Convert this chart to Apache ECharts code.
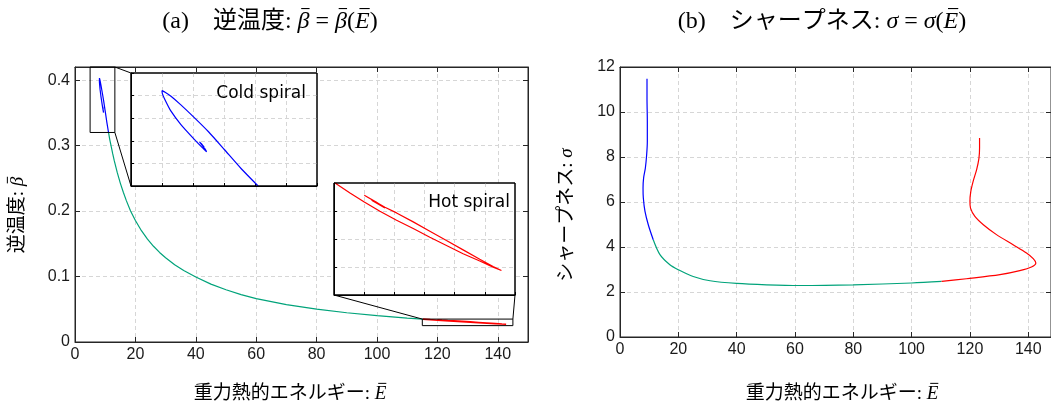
<!DOCTYPE html>
<html><head><meta charset="utf-8">
<script src="https://cdn.jsdelivr.net/npm/echarts@6/dist/echarts.min.js"></script>
<style>html,body{margin:0;padding:0;background:#fff}#c{width:1051px;height:410px}</style>
</head><body><div id="c"></div><script>
// ---------- data ----------
// (a) inverse temperature beta vs energy E
const greenBetaE = [11.1, 11.5, 12, 12.5, 13, 14, 15, 16, 17, 18.4, 20, 22, 24, 26, 28, 30, 33, 36, 40, 45, 50, 55, 60, 70, 80, 90, 100, 110, 115.2];
const greenBeta  = [0.3200, 0.3096, 0.2983, 0.2872, 0.2769, 0.2586, 0.2427, 0.2288, 0.2159, 0.2000, 0.1855, 0.1700, 0.1571, 0.1462, 0.1368, 0.1287, 0.1179, 0.1092, 0.0993, 0.0884, 0.0798, 0.0724, 0.0662, 0.0570, 0.0501, 0.0447, 0.0402, 0.0366, 0.0350];
const coldBetaE = [11.10, 10.55, 10.01, 9.50, 9.05, 8.60, 8.29, 8.10, 8.00, 8.01, 8.08, 8.29, 8.61, 9.05, 9.30, 9.44, 9.38, 9.21, 9.27, 9.36];
const coldBeta  = [0.3200, 0.3355, 0.3523, 0.3680, 0.3803, 0.3920, 0.3994, 0.4030, 0.4044, 0.4020, 0.3973, 0.3862, 0.3744, 0.3611, 0.3540, 0.3503, 0.3530, 0.3591, 0.3575, 0.3545];
const hotBetaE = [115.17, 117.65, 120.02, 122.61, 125.37, 128.13, 130.89, 133.64, 136.40, 139.16, 141.37, 142.75, 141.37, 139.16, 136.40, 133.64, 130.89, 128.13, 125.37, 123.44, 121.51, 120.02, 120.30, 122.06, 123.44, 123.16, 121.51, 121.23];
const hotBeta  = [0.03500, 0.03411, 0.03331, 0.03248, 0.03168, 0.03093, 0.03016, 0.02942, 0.02868, 0.02803, 0.02749, 0.02719, 0.02755, 0.02820, 0.02903, 0.02986, 0.03070, 0.03153, 0.03233, 0.03283, 0.03343, 0.03390, 0.03384, 0.03328, 0.03277, 0.03283, 0.03337, 0.03346];
// (b) sharpness sigma vs energy E
const greenSigmaE = [11.4, 13.7, 17.1, 20.0, 25.1, 30.9, 40.0, 50.3, 61.7, 80.0, 100.0, 110.3];
const greenSigma  = [4.32, 3.66, 3.21, 2.99, 2.69, 2.50, 2.38, 2.32, 2.29, 2.32, 2.40, 2.47];
const coldSigmaE = [11.4, 9.7, 8.57, 8.0, 7.9, 8.1, 8.7, 9.14, 9.37, 9.37, 9.26, 9.26];
const coldSigma  = [4.32, 4.99, 5.58, 6.18, 6.62, 7.07, 7.51, 8.10, 8.69, 9.58, 10.62, 11.48];
const hotSigmaE = [110.3, 118.8, 130.3, 137.1, 141.1, 142.6, 141.7, 139.4, 134.8, 129.1, 124.6, 121.7, 120.2, 120.0, 120.3, 121.1, 122.3, 123.1, 123.3, 123.3];
const hotSigma  = [2.47, 2.59, 2.77, 2.95, 3.11, 3.29, 3.48, 3.73, 4.10, 4.55, 4.99, 5.36, 5.73, 6.03, 6.47, 6.92, 7.44, 7.95, 8.40, 8.84];
// axis ranges, zoom windows and inset ranges
const axisA = {E: [0, 150], Ei: 20, beta: [0, 0.42], bi: 0.1};
const axisB = {E: [0, 147.8], Ei: 20, sigma: [0, 12], si: 2};
const coldWindow = {E: [5, 13.2], beta: [0.32, 0.42]};
const hotWindow  = {E: [115, 145], beta: [0.025, 0.035]};
const coldInset  = {E: [7, 13], Ei: 1, beta: [0.32, 0.42], bi: 0.02};
const hotInset   = {E: [115, 145], Ei: 5, beta: [0.025, 0.035], bi: 0.0025};
// texts: [text, italic, overbar]
const titleA = [['(a)　逆温度: ', 0, 0], ['β', 1, 1], [' = ', 0, 0], ['β', 1, 1], ['(', 0, 0], ['E', 1, 1], [')', 0, 0]];
const titleB = [['(b)　シャープネス: ', 0, 0], ['σ', 1, 0], [' = ', 0, 0], ['σ', 1, 0], ['(', 0, 0], ['E', 1, 1], [')', 0, 0]];
const xName  = [['重力熱的エネルギー: ', 0, 0], ['E', 1, 1]];
const yNameA = [['逆温度: ', 0, 0], ['β', 1, 1]];
const yNameB = [['シャープネス: ', 0, 0], ['σ', 1, 0]];
const coldLabel = 'Cold spiral';
const hotLabel = 'Hot spiral';

const zip = (a, b) => a.map((v, i) => [v, b[i]]);
const GREEN = '#00a37a', BLUE = '#0000ff', RED = '#ff0000';
const FONT = '"Liberation Sans", Arial, sans-serif';
const SERIF = '"Liberation Serif", "Noto Sans CJK JP", serif';
const dash = {show: true, showMinLine: false, showMaxLine: false, lineStyle: {color: '#d6d6d6', type: [4, 3], width: 1}};

function mainAxis(grid, r, interval, pos, labels, showMax) {
  return {
    type: 'value', gridIndex: grid, min: r[0], max: r[1], interval, position: pos,
    axisLine: {show: true, onZero: false, lineStyle: {color: '#262626', width: 1}},
    axisTick: {show: true, inside: true, length: 5, lineStyle: {color: '#262626'}},
    axisLabel: {show: labels, color: '#1a1a1a', fontSize: 16, fontFamily: FONT, margin: 5, showMaxLabel: !!showMax},
    splitLine: labels ? dash : {show: false}
  };
}
function insetAxis(grid, r, interval, pos) {
  return {
    type: 'value', gridIndex: grid, min: r[0], max: r[1], interval, position: pos, z: 4,
    axisLine: {show: true, onZero: false, lineStyle: {color: '#000', width: 1}},
    axisTick: {show: true, inside: true, length: 3, lineStyle: {color: '#000'}},
    axisLabel: {show: false},
    splitLine: dash
  };
}

const option = {
  animation: false,
  backgroundColor: '#fff',
  grid: [
    {left: 75, top: 67, width: 453, height: 275, show: true, borderColor: '#262626', borderWidth: 1, backgroundColor: 'transparent'},
    {left: 131, top: 73, width: 186, height: 113, show: true, backgroundColor: '#fff', borderColor: '#000', borderWidth: 1, z: 3},
    {left: 334, top: 183, width: 181, height: 112, show: true, backgroundColor: '#fff', borderColor: '#000', borderWidth: 1, z: 3},
    {left: 620, top: 67, width: 431, height: 270, show: true, borderColor: '#262626', borderWidth: 1, backgroundColor: 'transparent'}
  ],
  xAxis: [
    mainAxis(0, axisA.E, axisA.Ei, 'bottom', true, false),
    mainAxis(0, axisA.E, axisA.Ei, 'top', false),
    insetAxis(1, coldInset.E, coldInset.Ei, 'bottom'),
    insetAxis(2, hotInset.E, hotInset.Ei, 'bottom'),
    mainAxis(3, axisB.E, axisB.Ei, 'bottom', true, false),
    mainAxis(3, axisB.E, axisB.Ei, 'top', false)
  ],
  yAxis: [
    mainAxis(0, axisA.beta, axisA.bi, 'left', true, false),
    mainAxis(0, axisA.beta, axisA.bi, 'right', false),
    insetAxis(1, coldInset.beta, coldInset.bi, 'left'),
    insetAxis(2, hotInset.beta, hotInset.bi, 'left'),
    mainAxis(3, axisB.sigma, axisB.si, 'left', true, true),
    mainAxis(3, axisB.sigma, axisB.si, 'right', false)
  ],
  series: [
    {type: 'line', xAxisIndex: 0, yAxisIndex: 0, data: zip(greenBetaE, greenBeta), showSymbol: false, lineStyle: {color: GREEN, width: 1.2}, z: 2},
    {type: 'line', xAxisIndex: 0, yAxisIndex: 0, data: zip(coldBetaE, coldBeta), showSymbol: false, lineStyle: {color: BLUE, width: 1.2}, z: 2},
    {type: 'line', xAxisIndex: 0, yAxisIndex: 0, data: zip(hotBetaE, hotBeta), showSymbol: false, lineStyle: {color: RED, width: 1.6}, z: 2},
    {type: 'line', xAxisIndex: 2, yAxisIndex: 2, data: zip(coldBetaE, coldBeta), showSymbol: false, smooth: 0.2, lineStyle: {color: BLUE, width: 1.2}, z: 5},
    {type: 'line', xAxisIndex: 3, yAxisIndex: 3, data: zip(hotBetaE, hotBeta), showSymbol: false, lineStyle: {color: RED, width: 1.2}, z: 5},
    {type: 'line', xAxisIndex: 4, yAxisIndex: 4, data: zip(greenSigmaE, greenSigma), showSymbol: false, smooth: 0.3, lineStyle: {color: GREEN, width: 1.2}, z: 2},
    {type: 'line', xAxisIndex: 4, yAxisIndex: 4, data: zip(coldSigmaE, coldSigma), showSymbol: false, smooth: 0.3, lineStyle: {color: BLUE, width: 1.2}, z: 2},
    {type: 'line', xAxisIndex: 4, yAxisIndex: 4, data: zip(hotSigmaE, hotSigma), showSymbol: false, smooth: 0.3, lineStyle: {color: RED, width: 1.2}, z: 2}
  ]
};

const chart = echarts.init(document.getElementById('c'), null, {renderer: 'canvas'});
chart.setOption(option);

// ---------- annotations (positions derived from the axes) ----------
const P = (idx, pt) => chart.convertToPixel({xAxisIndex: idx, yAxisIndex: idx}, pt);
const rectFrom = (idx, w) => {
  const a = P(idx, [w.E[0], w.beta[1]]), b = P(idx, [w.E[1], w.beta[0]]);
  return {x: a[0], y: a[1], width: b[0] - a[0], height: b[1] - a[1]};
};
const line = (p, q) => ({type: 'line', z: 6, shape: {x1: p[0], y1: p[1], x2: q[0], y2: q[1]}, style: {stroke: '#000', lineWidth: 1}});
const box = (r) => ({type: 'rect', z: 6, shape: r, style: {fill: null, stroke: '#000', lineWidth: 1}});
const cr = rectFrom(0, coldWindow), hr = rectFrom(0, hotWindow);
const ci = rectFrom(2, coldInset), hi = rectFrom(3, hotInset);

// math-ish text layout with overbars
const mctx = document.createElement('canvas').getContext('2d');
function mathText(segs, size, cx, cy, rotation) {
  const fonts = segs.map(s => (s[1] ? 'italic ' : '') + size + 'px ' + SERIF);
  const widths = segs.map((s, k) => { mctx.font = fonts[k]; return mctx.measureText(s[0]).width; });
  const total = widths.reduce((a, b) => a + b, 0);
  let x = -total / 2;
  const children = [];
  segs.forEach((s, k) => {
    children.push({type: 'text', x, y: 0, style: {text: s[0], font: fonts[k], fill: '#000', align: 'left', verticalAlign: 'middle'}});
    if (s[2]) {
      const y = -size * 0.56;
      children.push({type: 'line', shape: {x1: x + widths[k] * 0.3, y1: y, x2: x + widths[k] * 1.0, y2: y}, style: {stroke: '#000', lineWidth: Math.max(1, size / 22)}});
    }
    x += widths[k];
  });
  return {type: 'group', x: cx, y: cy, rotation: rotation || 0, children};
}

chart.setOption({graphic: [
  box(cr), box(hr), box(ci), box(hi),
  line([cr.x + cr.width, cr.y], [ci.x, ci.y]),
  line([cr.x + cr.width, cr.y + cr.height], [ci.x, ci.y + ci.height]),
  line([hr.x, hr.y], [hi.x, hi.y + hi.height]),
  line([hr.x + hr.width, hr.y], [hi.x + hi.width, hi.y + hi.height]),
  {type: 'text', z: 7, x: ci.x + ci.width - 11, y: ci.y + 21, style: {text: coldLabel, font: '17px "DejaVu Sans", sans-serif', fill: '#000', align: 'right', verticalAlign: 'middle'}},
  {type: 'text', z: 7, x: hi.x + hi.width - 5, y: hi.y + 20, style: {text: hotLabel, font: '17px "DejaVu Sans", sans-serif', fill: '#000', align: 'right', verticalAlign: 'middle'}},
  mathText(titleA, 24, 270, 22),
  mathText(titleB, 24, 822, 22),
  mathText(xName, 19, 290, 394),
  mathText(xName, 19, 842, 394),
  mathText(yNameA, 19, 18, 215, Math.PI / 2),
  mathText(yNameB, 19, 567, 215, Math.PI / 2)
]});
</script></body></html>
